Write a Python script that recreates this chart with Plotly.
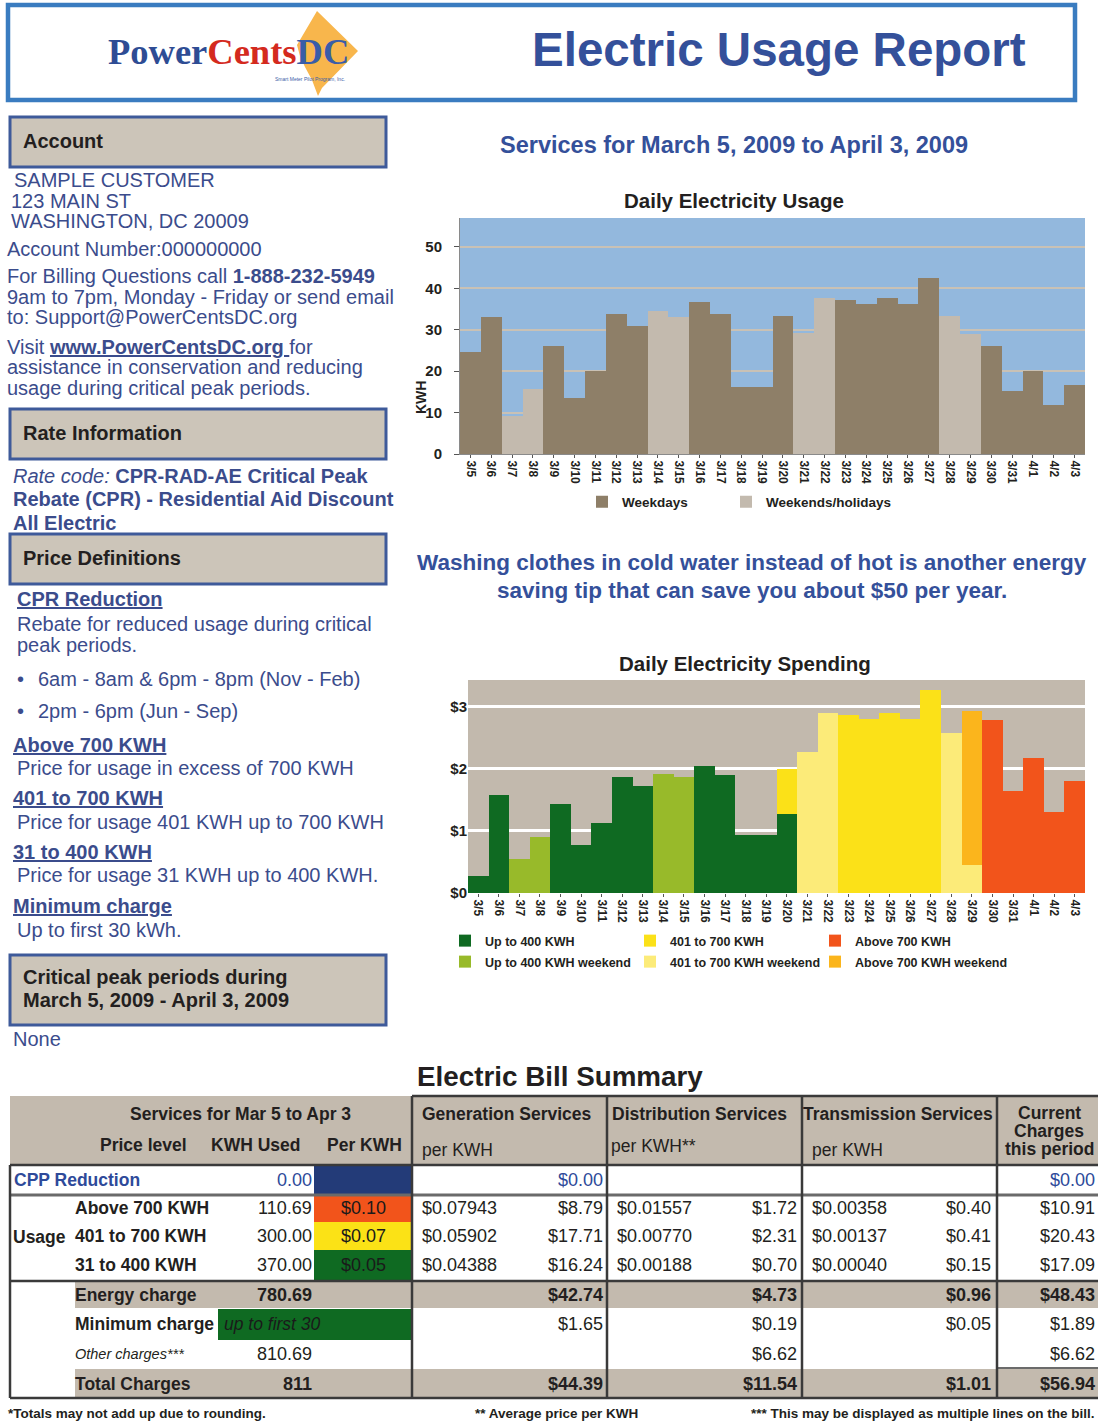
import plotly.graph_objects as go

W, H = 1098, 1422
FONT = "Liberation Sans, Arial, sans-serif"
SERIF = "Liberation Serif, Times New Roman, serif"

# ---------------- data ----------------
dates = ["3/5", "3/6", "3/7", "3/8", "3/9", "3/10", "3/11", "3/12", "3/13", "3/14",
         "3/15", "3/16", "3/17", "3/18", "3/19", "3/20", "3/21", "3/22", "3/23", "3/24",
         "3/25", "3/26", "3/27", "3/28", "3/29", "3/30", "3/31", "4/1", "4/2", "4/3"]
N = None
usage_weekdays = [24.7, 33.0, N, N, 26.1, 13.5, 20.1, 33.8, 30.8, N,
                  N, 36.7, 33.8, 16.1, 16.1, 33.3, N, N, 37.2, 36.3,
                  37.6, 36.3, 42.4, N, N, 26.1, 15.3, 20.1, 11.9, 16.6]
usage_weekends = [N, N, 9.2, 15.7, N, N, N, N, N, 34.6,
                  33.2, N, N, N, N, N, 29.3, 37.6, N, N,
                  N, N, N, 33.3, 28.9, N, N, N, N, N]
usage_ticks = [0, 10, 20, 30, 40, 50]

spend_t1 = [0.27, 1.58, N, N, 1.44, 0.78, 1.12, 1.87, 1.72, N,
            N, 2.04, 1.90, 0.93, 0.93, 1.27, N, N, N, N,
            N, N, N, N, N, N, N, N, N, N]
spend_t1_we = [N, N, 0.55, 0.90, N, N, N, N, N, 1.92,
               1.87, N, N, N, N, N, N, N, N, N,
               N, N, N, N, N, N, N, N, N, N]
spend_t2 = [N, N, N, N, N, N, N, N, N, N,
            N, N, N, N, N, 0.72, N, N, 2.87, 2.81,
            2.90, 2.81, 3.27, N, N, N, N, N, N, N]
spend_t2_we = [N, N, N, N, N, N, N, N, N, N,
               N, N, N, N, N, N, 2.27, 2.90, N, N,
               N, N, N, 2.58, 0.45, N, N, N, N, N]
spend_t3 = [N, N, N, N, N, N, N, N, N, N,
            N, N, N, N, N, N, N, N, N, N,
            N, N, N, N, N, 2.79, 1.64, 2.18, 1.30, 1.81]
spend_t3_we = [N, N, N, N, N, N, N, N, N, N,
               N, N, N, N, N, N, N, N, N, N,
               N, N, N, N, 2.48, N, N, N, N, N]
spend_tickvals = [0, 1, 2, 3]
spend_ticktext = ["$0", "$1", "$2", "$3"]

tier_labels = ["Above 700 KWH", "401 to 700 KWH", "31 to 400 KWH"]
tier_kwh = ["110.69", "300.00", "370.00"]
tier_price = ["$0.10", "$0.07", "$0.05"]
gen_rate = ["$0.07943", "$0.05902", "$0.04388"]
gen_amt = ["$8.79", "$17.71", "$16.24"]
dist_rate = ["$0.01557", "$0.00770", "$0.00188"]
dist_amt = ["$1.72", "$2.31", "$0.70"]
trans_rate = ["$0.00358", "$0.00137", "$0.00040"]
trans_amt = ["$0.40", "$0.41", "$0.15"]
cur_amt = ["$10.91", "$20.43", "$17.09"]

sum_labels = ["<b>Energy charge</b>", "<b>Minimum charge</b>", "<i>Other charges***</i>", "<b>Total Charges</b>"]
sum_kwh = ["780.69", "", "810.69", "811"]
sum_gen = ["$42.74", "$1.65", "", "$44.39"]
sum_dist = ["$4.73", "$0.19", "$6.62", "$11.54"]
sum_trans = ["$0.96", "$0.05", "", "$1.01"]
sum_cur = ["$48.43", "$1.89", "$6.62", "$56.94"]

# ---------------- colours ----------------
BLUE_TXT = "#3B4C8C"
TITLE_BLUE = "#34509A"
DARK = "#231F20"
HEAD_BG = "#CCC5B9"
HEAD_BORDER = "#3E5A9A"
TBL_BG = "#C3BAAE"
C_WEEKDAY = "#8E7F68"
C_WEEKEND = "#C3BAAE"
C_T1, C_T1W = "#0F6A22", "#98BA2A"
C_T2, C_T2W = "#FBE118", "#FCEB79"
C_T3, C_T3W = "#F2541B", "#FBB51C"


def X(px):
    return px / W


def Y(py):
    return 1 - py / H


ann = []
shp = []


def T(x, y, text, size=20, color=BLUE_TXT, anchor="left", family=FONT, angle=0):
    ann.append(dict(x=X(x), y=Y(y), xref="paper", yref="paper", text=text, showarrow=False,
                    xanchor=anchor, yanchor="middle", textangle=angle,
                    font=dict(size=size, color=color, family=family)))


def R(x0, y0, x1, y1, fill="rgba(0,0,0,0)", line="rgba(0,0,0,0)", lw=0):
    shp.append(dict(type="rect", xref="paper", yref="paper", x0=X(x0), x1=X(x1), y0=Y(y1), y1=Y(y0),
                    fillcolor=fill, line=dict(color=line, width=lw)))


def L(x0, y0, x1, y1, color="#3A3A3A", w=2):
    shp.append(dict(type="line", xref="paper", yref="paper", x0=X(x0), x1=X(x1), y0=Y(y0), y1=Y(y1),
                    line=dict(color=color, width=w)))


fig = go.Figure()

# ---------------- usage chart ----------------
fig.add_trace(go.Bar(x=dates, y=usage_weekdays, name="Weekdays", marker=dict(color=C_WEEKDAY, line=dict(width=0)),
                     xaxis="x", yaxis="y", legend="legend"))
fig.add_trace(go.Bar(x=dates, y=usage_weekends, name="Weekends/holidays", marker=dict(color=C_WEEKEND, line=dict(width=0)),
                     xaxis="x", yaxis="y", legend="legend", legendwidth=150))

# ---------------- spending chart ----------------
spend_series = [
    ("Up to 400 KWH", spend_t1, C_T1, "legend2", None),
    ("Up to 400 KWH weekend", spend_t1_we, C_T1W, "legend3", None),
    ("401 to 700 KWH", spend_t2, C_T2, "legend2", None),
    ("401 to 700 KWH weekend", spend_t2_we, C_T2W, "legend3", None),
    ("Above 700 KWH", spend_t3, C_T3, "legend2", 180),
    ("Above 700 KWH weekend", spend_t3_we, C_T3W, "legend3", 180),
]
for name, vals, col, lg, lw in spend_series:
    fig.add_trace(go.Bar(x=dates, y=vals, name=name, marker=dict(color=col, line=dict(width=0)),
                         xaxis="x2", yaxis="y2", legend=lg, legendwidth=lw))

# plot backgrounds
shp.append(dict(type="rect", xref="x domain", yref="y domain", x0=0, x1=1, y0=0, y1=1,
                fillcolor="#93B8DD", line=dict(width=0), layer="below"))
shp.append(dict(type="rect", xref="x2 domain", yref="y2 domain", x0=0, x1=1, y0=0, y1=1,
                fillcolor="#C2B9AD", line=dict(width=0), layer="below"))

# ---------------- header ----------------
R(8, 5, 1075, 100, fill="white", line="#3A7CC0", lw=4.5)
logo = [(317, 11), (358, 51), (322, 88), (318, 96), (312, 80), (305, 67), (300, 56), (297, 45)]
path = "M " + " L ".join(f"{X(a):.5f},{Y(b):.5f}" for a, b in logo) + " Z"
shp.append(dict(type="path", xref="paper", yref="paper", path=path, fillcolor="#F8B64C", line=dict(width=0)))
T(228, 51, "<b><span style='color:#2E4C94'>Power</span><span style='color:#D42A1E'>Cents</span>"
           "<span style='color:#3A5DA8'>DC</span></b>", size=36.5, family=SERIF, anchor="center")
T(310, 79, "Smart Meter Pilot Program, Inc.", size=5, color="#3A5DA8", anchor="center")
T(779, 50, "<b>Electric Usage Report</b>", size=47.5, color=TITLE_BLUE, anchor="center")

# ---------------- left panel ----------------
for (y0, y1) in [(117, 167), (409, 459), (534, 584), (955, 1025)]:
    R(10, y0, 386, y1, fill=HEAD_BG, line=HEAD_BORDER, lw=3)
T(21, 141, "<b>Account</b>", color=DARK)
T(21, 433, "<b>Rate Information</b>", color=DARK)
T(21, 558, "<b>Price Definitions</b>", color=DARK)
T(21, 977, "<b>Critical peak periods during</b>", color=DARK)
T(21, 1000, "<b>March 5, 2009 - April 3, 2009</b>", color=DARK)

left_lines = [
    (12, 180, "SAMPLE CUSTOMER"),
    (9, 200.5, "123 MAIN ST"),
    (9, 221, "WASHINGTON, DC 20009"),
    (5, 249, "Account Number:000000000"),
    (5, 276, "For Billing Questions call <b>1-888-232-5949</b>"),
    (5, 297, "9am to 7pm, Monday - Friday or send email"),
    (5, 317, "to: Support@PowerCentsDC.org"),
    (5, 347, "Visit <b><u>www.PowerCentsDC.org </u></b>for"),
    (5, 367, "assistance in conservation and reducing"),
    (5, 388, "usage during critical peak periods."),
    (11, 476, "<i>Rate code:</i> <b>CPR-RAD-AE Critical Peak</b>"),
    (11, 499, "<b>Rebate (CPR) - Residential Aid Discount</b>"),
    (11, 523, "<b>All Electric</b>"),
    (15, 599, "<b><u>CPR Reduction</u></b>"),
    (15, 624, "Rebate for reduced usage during critical"),
    (15, 645, "peak periods."),
    (15, 679, "•"),
    (36, 679, "6am - 8am &amp; 6pm - 8pm (Nov - Feb)"),
    (15, 711, "•"),
    (36, 711, "2pm - 6pm (Jun - Sep)"),
    (11, 745, "<b><u>Above 700 KWH</u></b>"),
    (15, 768, "Price for usage in excess of 700 KWH"),
    (11, 798, "<b><u>401 to 700 KWH</u></b>"),
    (15, 822, "Price for usage 401 KWH up to 700 KWH"),
    (11, 852, "<b><u>31 to 400 KWH</u></b>"),
    (15, 875, "Price for usage 31 KWH up to 400 KWH."),
    (11, 906, "<b><u>Minimum charge</u></b>"),
    (15, 930, "Up to first 30 kWh."),
    (11, 1039, "None"),
]
for x, y, t in left_lines:
    T(x, y, t)

# ---------------- right texts ----------------
T(734, 145, "<b>Services for March 5, 2009 to April 3, 2009</b>", size=23.5, color=TITLE_BLUE, anchor="center")
T(734, 201, "<b>Daily Electricity Usage</b>", size=20.5, color=DARK, anchor="center")
T(752, 562, "<b>Washing clothes in cold water instead of hot is another energy</b>", size=22.5, color=TITLE_BLUE, anchor="center")
T(752, 590, "<b>saving tip that can save you about $50 per year.</b>", size=22.5, color=TITLE_BLUE, anchor="center")
T(745, 663, "<b>Daily Electricity Spending</b>", size=20.5, color=DARK, anchor="center")
T(421, 398, "<b>KWH</b>", size=14, color=DARK, anchor="center", angle=-90)

# ---------------- bill summary table ----------------
TS = 17.5
NS = 18
T(415, 1076, "<b>Electric Bill Summary</b>", size=27.8, color=DARK)
R(10, 1096, 1098, 1165, fill=TBL_BG)
R(75, 1282, 1098, 1308, fill=TBL_BG)
R(75, 1369, 1098, 1398, fill=TBL_BG)
R(314, 1166, 412, 1194, fill="#233B78")
for (y0, y1), col in zip([(1196, 1222), (1222, 1250), (1250, 1280)], [C_T3, "#FBE216", C_T1]):
    R(314, y0, 412, y1, fill=col)
R(218, 1309, 412, 1340, fill=C_T1)

T(240, 1114, "<b>Services for Mar 5 to Apr 3</b>", TS, DARK, "center")
T(143, 1145, "<b>Price level</b>", TS, DARK, "center")
T(255, 1145, "<b>KWH Used</b>", TS, DARK, "center")
T(364, 1145, "<b>Per KWH</b>", TS, DARK, "center")
T(420, 1114, "<b>Generation Services</b>", TS, DARK)
T(420, 1150, "per KWH", TS, DARK)
T(610, 1114, "<b>Distribution Services</b>", TS, DARK)
T(609, 1146, "per KWH**", TS, DARK)
T(801, 1114, "<b>Transmission Services</b>", TS, DARK)
T(810, 1150, "per KWH", TS, DARK)
T(1049, 1113, "<b>Current</b>", TS, DARK, "center")
T(1049, 1131, "<b>Charges</b>", TS, DARK, "center")
T(1049, 1149, "<b>this period</b>", TS, DARK, "center")

CPP_BLUE = "#2E4A9A"
T(12, 1180, "<b>CPP Reduction</b>", TS, CPP_BLUE)
T(314, 1180, "0.00", NS, CPP_BLUE, "right")
T(605, 1180, "$0.00", NS, CPP_BLUE, "right")
T(1097, 1180, "$0.00", NS, CPP_BLUE, "right")

T(11, 1237, "<b>Usage</b>", TS, DARK)
for i, y in enumerate([1208, 1236, 1265]):
    T(73, y, "<b>" + tier_labels[i] + "</b>", TS, DARK)
    T(314, y, tier_kwh[i], NS, DARK, "right")
    T(363, y, tier_price[i], NS, "#1A1A1A", "center")
    T(420, y, gen_rate[i], NS, DARK)
    T(605, y, gen_amt[i], NS, DARK, "right")
    T(615, y, dist_rate[i], NS, DARK)
    T(799, y, dist_amt[i], NS, DARK, "right")
    T(810, y, trans_rate[i], NS, DARK)
    T(993, y, trans_amt[i], NS, DARK, "right")
    T(1097, y, cur_amt[i], NS, DARK, "right")

for i, y in enumerate([1295, 1324, 1354, 1384]):
    T(73, y, sum_labels[i], TS if i != 2 else 14.5, DARK)
    wrap = (lambda s: "<b>" + s + "</b>") if i in (0, 3) else (lambda s: s)
    if sum_kwh[i]:
        T(314, y, wrap(sum_kwh[i]), NS, DARK, "right")
    if sum_gen[i]:
        T(605, y, wrap(sum_gen[i]), NS, DARK, "right")
    if sum_dist[i]:
        T(799, y, wrap(sum_dist[i]), NS, DARK, "right")
    if sum_trans[i]:
        T(993, y, wrap(sum_trans[i]), NS, DARK, "right")
    T(1097, y, wrap(sum_cur[i]), NS, DARK, "right")
T(222, 1324, "<i>up to first 30</i>", TS, "#1A1A1A")

LC = "#3A3A3A"
L(10, 1165, 1098, 1165, LC, 2.5)
L(10, 1195, 1098, 1195, "#6A6A6A", 3)
L(10, 1281, 1098, 1281, LC, 2.5)
L(10, 1398, 1098, 1398, LC, 2.5)
L(412, 1096, 1098, 1096, LC, 2.5)
L(10, 1165, 10, 1398, LC, 2.5)
for xv in [412, 607, 802, 997]:
    L(xv, 1096, xv, 1398, LC, 2.5)
L(997, 1368, 1098, 1368, LC, 1.5)

T(6, 1413, "<b>*Totals may not add up due to rounding.</b>", 13.5, DARK)
T(473, 1413, "<b>** Average price per KWH</b>", 13.5, DARK)
T(1097, 1413, "<b>*** This may be displayed as multiple lines on the bill.</b>", 13.5, DARK, "right")

# ---------------- layout ----------------
tickfont_x = dict(size=12, color=DARK, family=FONT, weight="bold")
tickfont_y = dict(size=15, color=DARK, family=FONT, weight="bold")
legfont = dict(size=13.5, color=DARK, family=FONT, weight="bold")
legfont2 = dict(size=12.5, color=DARK, family=FONT, weight="bold")

fig.update_layout(
    width=W, height=H, margin=dict(l=0, r=0, t=0, b=0),
    paper_bgcolor="white", plot_bgcolor="rgba(0,0,0,0)",
    barmode="stack", bargap=0,
    font=dict(family=FONT, color=DARK),
    xaxis=dict(domain=[X(460), X(1085)], anchor="y", type="category", tickangle=90, tickfont=tickfont_x,
               ticks="outside", ticklen=3, tickcolor="#555", showline=True, linecolor="#8A8A8A",
               showgrid=False, automargin=False, fixedrange=True),
    yaxis=dict(domain=[Y(454), Y(218)], anchor="x", range=[0, 57], tickvals=usage_ticks, tickfont=tickfont_y,
               ticks="outside", ticklen=5, tickcolor="#555", ticklabelstandoff=9, showline=True,
               linecolor="#8A8A8A", gridcolor="#C9C1B5", gridwidth=2, zeroline=False, automargin=False),
    xaxis2=dict(domain=[X(468), X(1085)], anchor="y2", type="category", tickangle=90, tickfont=tickfont_x,
                ticks="outside", ticklen=3, tickcolor="#555", showline=False, showgrid=False, automargin=False),
    yaxis2=dict(domain=[Y(893), Y(680)], anchor="x2", range=[0, 3.43], tickvals=spend_tickvals,
                ticktext=spend_ticktext, tickfont=tickfont_y, ticks="", gridcolor="white", gridwidth=2.5,
                zeroline=False, automargin=False),
    legend=dict(orientation="h", x=X(582), y=Y(502), xanchor="left", yanchor="middle", traceorder="normal",
                entrywidth=99, entrywidthmode="pixels", font=legfont, bgcolor="rgba(0,0,0,0)"),
    legend2=dict(orientation="h", x=X(445), y=Y(941), xanchor="left", yanchor="middle", traceorder="normal",
                 entrywidth=140, entrywidthmode="pixels", font=legfont2, bgcolor="rgba(0,0,0,0)"),
    legend3=dict(orientation="h", x=X(445), y=Y(962), xanchor="left", yanchor="middle", traceorder="normal",
                 entrywidth=140, entrywidthmode="pixels", font=legfont2, bgcolor="rgba(0,0,0,0)"),
    shapes=shp, annotations=ann,
)

fig.write_html("out.html", post_script="document.body.style.margin='0px';",
               config={"displayModeBar": False})
